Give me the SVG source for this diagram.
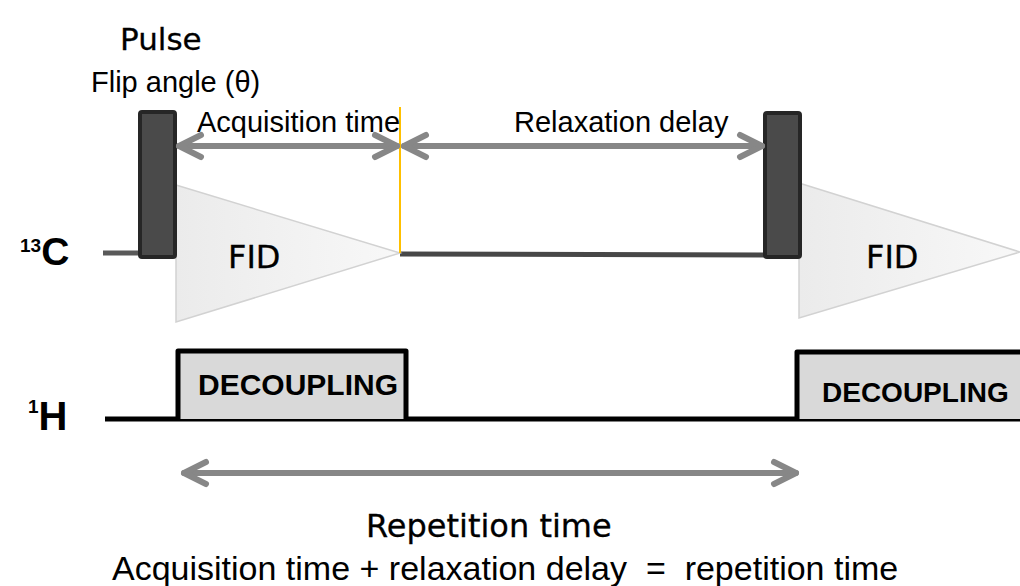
<svg xmlns="http://www.w3.org/2000/svg" width="1020" height="586" viewBox="0 0 1020 586">
  <style>
    .arial { font-family: "Liberation Sans", Arial, sans-serif; fill: #000; }
    .ttl { font-family: "DejaVu Sans", Verdana, sans-serif; font-weight: normal; fill: #000; stroke: #000; stroke-width: 0.3; }
    .lbl { font-size: 29px; }
    .pulse { fill: #4a4a4a; stroke: #262626; stroke-width: 4; }
    .fid { fill: url(#fidGrad); stroke: #d2d2d2; stroke-width: 1.5; }
    .dec { fill: #d9d9d9; stroke: #000; stroke-width: 5; stroke-linejoin: round; }
    .dectxt { font-weight: bold; }
    .arrow { stroke: #878787; stroke-width: 6; stroke-linecap: round; fill: none; marker-start: url(#chev); marker-end: url(#chev); }
  </style>
  <defs>
    <linearGradient id="fidGrad" x1="0" y1="0" x2="1" y2="0">
      <stop offset="0" stop-color="#ebebeb"/>
      <stop offset="1" stop-color="#f8f8f8"/>
    </linearGradient>
    <marker id="chev" markerUnits="userSpaceOnUse" markerWidth="32" markerHeight="32" viewBox="-28 -16 32 32" refX="0" refY="0" orient="auto-start-reverse" overflow="visible">
      <path d="M-22,-11 L0,0 L-22,11" fill="none" stroke="#878787" stroke-width="6" stroke-linecap="round" stroke-linejoin="round"/>
    </marker>
  </defs>

  <rect width="1020" height="586" fill="#ffffff"/>

  <!-- baselines -->
  <g id="c13-line">
    <line x1="103" y1="253" x2="140" y2="253" stroke="#595959" stroke-width="5"/>
    <line x1="400" y1="254" x2="765" y2="255" stroke="#474747" stroke-width="5"/>
  </g>
  <g id="h1-line">
    <line x1="105" y1="419" x2="1020" y2="419" stroke="#000" stroke-width="5"/>
  </g>

  <!-- FID triangles -->
  <g id="fid1">
    <polygon class="fid" points="176,185 400,253 176,322"/>
    <text class="ttl" x="228" y="268" font-size="32">FID</text>
  </g>
  <g id="fid2">
    <polygon class="fid" points="799,183 1020,252 799,318"/>
    <text class="ttl" x="866" y="268" font-size="32">FID</text>
  </g>

  <!-- pulses -->
  <g id="pulse1">
    <rect class="pulse" x="140" y="112" width="35" height="145" rx="2"/>
  </g>
  <g id="pulse2">
    <rect class="pulse" x="765" y="113" width="35" height="144" rx="2"/>
  </g>

  <!-- acquisition end marker -->
  <g id="acq-end">
    <line x1="400" y1="107" x2="400" y2="253" stroke="#ffc000" stroke-width="2"/>
  </g>

  <!-- decoupling boxes -->
  <g id="dec1">
    <path class="dec" d="M178,419 V351 H406 V419"/>
    <text class="arial dectxt" x="198" y="395" font-size="30">DECOUPLING</text>
  </g>
  <g id="dec2">
    <path class="dec" d="M797,419 V352 H1024 V419"/>
    <text class="arial dectxt" x="822" y="402" font-size="28">DECOUPLING</text>
  </g>

  <!-- connectors -->
  <g id="connectors">
    <line class="arrow" x1="179" y1="146" x2="397" y2="146"/>
    <line class="arrow" x1="404" y1="146" x2="762" y2="146"/>
    <line class="arrow" x1="184" y1="473" x2="796" y2="473"/>
  </g>

  <!-- labels -->
  <g id="labels">
    <text class="ttl" x="120" y="50" font-size="31">Pulse</text>
    <text class="arial lbl" x="91" y="92">Flip angle (θ)</text>
    <text class="arial lbl" x="197" y="132">Acquisition time</text>
    <text class="arial lbl" x="514" y="132">Relaxation delay</text>
    <text class="arial" font-weight="bold" y="265"><tspan x="20" font-size="19" dy="-13">13</tspan><tspan font-size="39" dy="13">C</tspan></text>
    <text class="arial" font-weight="bold" y="430"><tspan x="28" font-size="19" dy="-17">1</tspan><tspan font-size="40" dy="17">H</tspan></text>
    <text class="ttl" x="366" y="537" font-size="32">Repetition time</text>
    <text class="arial" x="112" y="580" font-size="34" style="white-space: pre">Acquisition time + relaxation delay  =  repetition time</text>
  </g>
</svg>
